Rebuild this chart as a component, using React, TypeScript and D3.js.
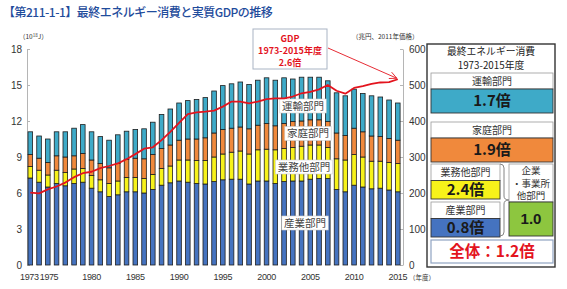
import React, { useRef, useEffect } from 'react';
import { select, scaleLinear, scalePoint, stack, line, axisLeft, axisRight } from 'd3';

// fiscal years 1973-2015
const years = [
  1973, 1974, 1975, 1976, 1977, 1978, 1979, 1980, 1981, 1982, 1983,
  1984, 1985, 1986, 1987, 1988, 1989, 1990, 1991, 1992, 1993, 1994,
  1995, 1996, 1997, 1998, 1999, 2000, 2001, 2002, 2003, 2004, 2005,
  2006, 2007, 2008, 2009, 2010, 2011, 2012, 2013, 2014, 2015,
];
// 10^18 J, per sector
const industry = [
  7.25, 6.9, 6.5, 6.8, 6.6, 6.8, 6.9, 6.4, 6.1, 5.7, 5.85,
  6.1, 6.1, 6.0, 6.3, 6.65, 6.85, 7.0, 6.9, 6.8, 6.75, 6.95,
  7.1, 7.15, 7.15, 6.75, 7.0, 7.0, 6.8, 6.95, 7.0, 7.0, 7.15,
  7.2, 7.2, 6.3, 6.1, 6.65, 6.5, 6.35, 6.4, 6.25, 6.1,
];
const business = [
  0.95, 1.0, 1.0, 1.1, 1.1, 1.2, 1.15, 1.05, 1.0, 1.1, 1.15,
  1.2, 1.2, 1.2, 1.25, 1.4, 1.4, 1.75, 1.85, 1.9, 1.95, 2.05,
  2.15, 2.25, 2.35, 2.5, 2.6, 2.65, 2.8, 2.75, 2.8, 2.9, 2.85,
  2.8, 2.6, 2.55, 2.65, 2.55, 2.5, 2.3, 2.25, 2.3, 2.35,
];
const household = [
  1.0, 1.0, 1.05, 1.2, 1.3, 1.1, 1.25, 1.3, 1.35, 1.3, 1.45,
  1.5, 1.6, 1.65, 1.65, 1.65, 1.75, 1.65, 1.75, 1.8, 1.9, 2.0,
  2.05, 2.0, 2.0, 2.1, 2.05, 2.15, 2.0, 2.1, 2.15, 2.1, 2.1,
  2.1, 2.15, 2.15, 2.05, 2.2, 2.1, 2.1, 2.05, 2.0, 1.95,
];
const transport = [
  1.9, 1.85, 1.95, 2.0, 2.1, 2.3, 2.4, 2.35, 2.25, 2.3, 2.4,
  2.35, 2.4, 2.5, 2.7, 2.85, 3.0, 3.1, 3.2, 3.3, 3.35, 3.5,
  3.65, 3.7, 3.75, 3.7, 3.75, 3.8, 3.8, 3.8, 3.55, 3.65, 3.55,
  3.55, 3.4, 3.35, 3.3, 3.25, 3.2, 3.35, 3.3, 3.2, 3.1,
];
// real GDP, trillion yen (2011 prices)
const gdp = [
  201, 199, 210, 218, 229, 244, 255, 259, 269, 275, 282,
  294, 308, 323, 327, 347, 370, 395, 419, 424, 426, 429,
  440, 454, 454, 449, 454, 461, 463, 463, 468, 477, 481,
  488, 500, 484, 476, 492, 497, 503, 507, 508, 516,
];
const leftTicks = [0, 3, 6, 9, 12, 15, 18];
const rightTicks = [0, 100, 200, 300, 400, 500, 600];
const yearLabels = [1973, 1975, 1980, 1985, 1990, 1995, 2000, 2005, 2010, 2015];

const keys = ['industry', 'business', 'household', 'transport'];
const colors = { industry: '#4573c0', business: '#f7f21a', household: '#f0893c', transport: '#3eaac8' };
const barNames = [
  { name: '運輸部門', x: 303, y: 106 },
  { name: '家庭部門', x: 308, y: 133.5 },
  { name: '業務他部門', x: 304, y: 167 },
  { name: '産業部門', x: 305, y: 223 },
];

const JP = '"Noto Sans CJK JP", "Liberation Sans", sans-serif';
const NUM = '"Liberation Sans", Arial, sans-serif';

const App = () => {
  const svgRef = useRef(null);

  useEffect(() => {
    const svg = select(svgRef.current);
    svg.selectAll('*').remove();

    const rows = years.map((yr, i) => ({
      year: yr,
      industry: industry[i],
      business: business[i],
      household: household[i],
      transport: transport[i],
    }));

    const x = scalePoint().domain(years).range([30.3, 397.8]);
    const y = scaleLinear().domain([0, 18]).range([265, 49]);
    const y2 = scaleLinear().domain([0, 600]).range([265, 49]);
    const bw = 4.6;

    // title
    svg.append('text')
      .attr('x', 3).attr('y', 17)
      .attr('font-family', JP).attr('font-size', 12).attr('font-weight', 500)
      .attr('letter-spacing', -0.5)
      .attr('fill', '#1f4c9c')
      .text('【第211-1-1】最終エネルギー消費と実質GDPの推移');

    // unit labels
    const unitL = svg.append('text')
      .attr('x', 19).attr('y', 39)
      .attr('font-family', JP).attr('font-size', 6.5).attr('fill', '#333');
    unitL.append('tspan').text('（10');
    unitL.append('tspan').attr('font-size', 4.5).attr('dy', -2.5).text('18');
    unitL.append('tspan').attr('dy', 2.5).text('J）');
    svg.append('text')
      .attr('x', 352).attr('y', 39)
      .attr('font-family', JP).attr('font-size', 6.5).attr('fill', '#333')
      .text('（兆円、2011年価格）');

    // axes
    const gL = svg.append('g').attr('transform', 'translate(27,0)')
      .call(axisLeft(y).tickValues(leftTicks).tickSizeInner(-3).tickSizeOuter(0).tickPadding(5));
    const gR = svg.append('g').attr('transform', 'translate(403,0)')
      .call(axisRight(y2).tickValues(rightTicks).tickSizeInner(-3).tickSizeOuter(0).tickPadding(6));
    [gL, gR].forEach(g => {
      g.select('.domain').attr('stroke', '#b5b5b5');
      g.selectAll('.tick line').attr('stroke', '#b5b5b5');
      g.selectAll('.tick text')
        .attr('font-family', NUM).attr('font-size', 10).attr('fill', '#333');
    });

    // stacked bars
    const series = stack().keys(keys)(rows);
    svg.append('g')
      .selectAll('g')
      .data(series)
      .join('g')
      .attr('fill', s => colors[s.key])
      .selectAll('rect')
      .data(s => s)
      .join('rect')
      .attr('x', d => x(d.data.year) - bw / 2)
      .attr('y', d => y(d[1]))
      .attr('width', bw)
      .attr('height', d => y(d[0]) - y(d[1]))
      .attr('stroke', '#1e1e1e')
      .attr('stroke-width', 0.8);

    // year labels (1973 / 1975 sit almost touching, as in the source)
    svg.append('g')
      .selectAll('text')
      .data(yearLabels)
      .join('text')
      .attr('x', d => x(d) + (d === 1973 ? -1 : d === 1975 ? 1.2 : 0))
      .attr('y', 280)
      .attr('text-anchor', 'middle')
      .attr('font-family', NUM).attr('font-size', 9).attr('letter-spacing', -0.4)
      .attr('fill', '#333')
      .text(d => d);
    svg.append('text')
      .attr('x', 409).attr('y', 280)
      .attr('font-family', JP).attr('font-size', 6.5).attr('fill', '#333')
      .text('（年度）');

    // sector names on bars
    const nm = svg.append('g').selectAll('g').data(barNames).join('g')
      .attr('transform', d => `translate(${d.x},${d.y})`);
    nm.append('rect')
      .attr('x', d => -d.name.length * 5.3 - 2).attr('y', -7)
      .attr('width', d => d.name.length * 10.6 + 4).attr('height', 14)
      .attr('fill', '#fff').attr('stroke', '#cfcfcf').attr('stroke-width', 0.6);
    nm.append('text')
      .attr('text-anchor', 'middle').attr('dy', '0.36em')
      .attr('font-family', JP).attr('font-size', 10.5).attr('fill', '#444')
      .text(d => d.name);

    // GDP line
    const gdpLine = line()
      .x((d, i) => x(years[i]))
      .y(d => y2(d));
    svg.append('path')
      .datum(gdp)
      .attr('d', gdpLine)
      .attr('fill', 'none')
      .attr('stroke', '#e3141e')
      .attr('stroke-width', 1.8)
      .attr('stroke-linejoin', 'round');

    // GDP callout
    svg.append('rect')
      .attr('x', 253).attr('y', 29).attr('width', 74).attr('height', 40)
      .attr('fill', '#fff').attr('stroke', '#a9b4c4').attr('stroke-width', 1);
    ['GDP', '1973-2015年度', '2.6倍'].forEach((t, i) => {
      svg.append('text')
        .attr('x', 290).attr('y', 41.5 + i * 12)
        .attr('text-anchor', 'middle')
        .attr('font-family', JP).attr('font-size', 9).attr('font-weight', 'bold')
        .attr('fill', '#e3141e')
        .text(t);
    });
    const ax = x(2015) - 1, ay = y2(gdp[gdp.length - 1]) - 1;
    svg.append('line')
      .attr('x1', 328).attr('y1', 48).attr('x2', ax).attr('y2', ay)
      .attr('stroke', '#e3141e').attr('stroke-width', 0.9);
    const ang = Math.atan2(ay - 48, ax - 328);
    const head = [ang - 0.45, ang + 0.45].map(a => [ax - 8 * Math.cos(a), ay - 8 * Math.sin(a)]);
    svg.append('path')
      .attr('d', `M${head[0][0]},${head[0][1]}L${ax},${ay}L${head[1][0]},${head[1][1]}`)
      .attr('fill', 'none').attr('stroke', '#e3141e').attr('stroke-width', 0.9);

    // summary panel
    const p = svg.append('g');
    p.append('rect').attr('x', 427).attr('y', 44).attr('width', 128).attr('height', 223)
      .attr('fill', '#fff').attr('stroke', '#333').attr('stroke-width', 1.4);
    p.append('text').attr('x', 491).attr('y', 54.5).attr('text-anchor', 'middle')
      .attr('font-family', JP).attr('font-size', 9.8).attr('fill', '#222').text('最終エネルギー消費');
    p.append('text').attr('x', 491).attr('y', 69).attr('text-anchor', 'middle')
      .attr('font-family', JP).attr('font-size', 9.8).attr('fill', '#222').text('1973-2015年度');

    const boxes = [
      { label: '運輸部門', ratio: '1.7倍', x: 431, w: 122, y: 73, key: 'transport' },
      { label: '家庭部門', ratio: '1.9倍', x: 431, w: 122, y: 122, key: 'household' },
      { label: '業務他部門', ratio: '2.4倍', x: 431, w: 69, y: 164, key: 'business' },
      { label: '産業部門', ratio: '0.8倍', x: 431, w: 69, y: 202, key: 'industry' },
    ];
    boxes.forEach((b, i) => {
      const lh = i < 2 ? 16 : 16.5;
      const ch = i < 2 ? 24 : 18.5;
      p.append('rect').attr('x', b.x).attr('y', b.y).attr('width', b.w).attr('height', lh)
        .attr('fill', '#fff').attr('stroke', '#999').attr('stroke-width', 0.8);
      p.append('text').attr('x', b.x + b.w / 2).attr('y', b.y + lh / 2).attr('dy', '0.36em')
        .attr('text-anchor', 'middle').attr('font-family', JP).attr('font-size', 10)
        .attr('fill', '#333').text(b.label);
      p.append('rect').attr('x', b.x).attr('y', b.y + lh).attr('width', b.w).attr('height', ch)
        .attr('fill', colors[b.key]).attr('stroke', '#333').attr('stroke-width', 0.9);
      p.append('text').attr('x', b.x + b.w / 2).attr('y', b.y + lh + ch / 2).attr('dy', '0.36em')
        .attr('text-anchor', 'middle').attr('font-family', JP).attr('font-size', 15)
        .attr('font-weight', 'bold').attr('fill', '#1a1a1a').text(b.ratio);
    });

    // brace
    p.append('path')
      .attr('d', 'M500,164 Q504,164 504,168 L504,196 Q504,200 509,200 Q504,200 504,204 L504,232 Q504,236 500,236')
      .attr('fill', 'none').attr('stroke', '#777').attr('stroke-width', 0.9);

    // corporate total
    p.append('rect').attr('x', 509).attr('y', 164).attr('width', 44).attr('height', 38)
      .attr('fill', '#fff').attr('stroke', '#999').attr('stroke-width', 0.8);
    ['企業', '・事業所', '他部門'].forEach((t, i) => {
      p.append('text').attr('x', 531).attr('y', 171 + i * 12.5).attr('dy', '0.36em')
        .attr('text-anchor', 'middle').attr('font-family', JP).attr('font-size', 9.5)
        .attr('fill', '#333').text(t);
    });
    p.append('rect').attr('x', 509).attr('y', 202).attr('width', 44).attr('height', 34)
      .attr('fill', '#8dc63f').attr('stroke', '#333').attr('stroke-width', 0.9);
    p.append('text').attr('x', 531).attr('y', 219).attr('dy', '0.36em')
      .attr('text-anchor', 'middle').attr('font-family', NUM).attr('font-size', 15)
      .attr('font-weight', 'bold').attr('fill', '#1a1a1a').text('1.0');

    // overall
    p.append('rect').attr('x', 431).attr('y', 240).attr('width', 122).attr('height', 23)
      .attr('fill', '#fff').attr('stroke', '#8fa3c2').attr('stroke-width', 1.2);
    p.append('text').attr('x', 492).attr('y', 251.5).attr('dy', '0.36em')
      .attr('text-anchor', 'middle').attr('font-family', JP).attr('font-size', 15.5)
      .attr('font-weight', 'bold').attr('fill', '#e3141e').text('全体：1.2倍');
  }, []);

  return (
    <div style={{ position: 'absolute', left: 0, top: 0 }}>
      <svg ref={svgRef} width={567} height={289} style={{ display: 'block', background: '#fff' }} />
    </div>
  );
};

export default App;
